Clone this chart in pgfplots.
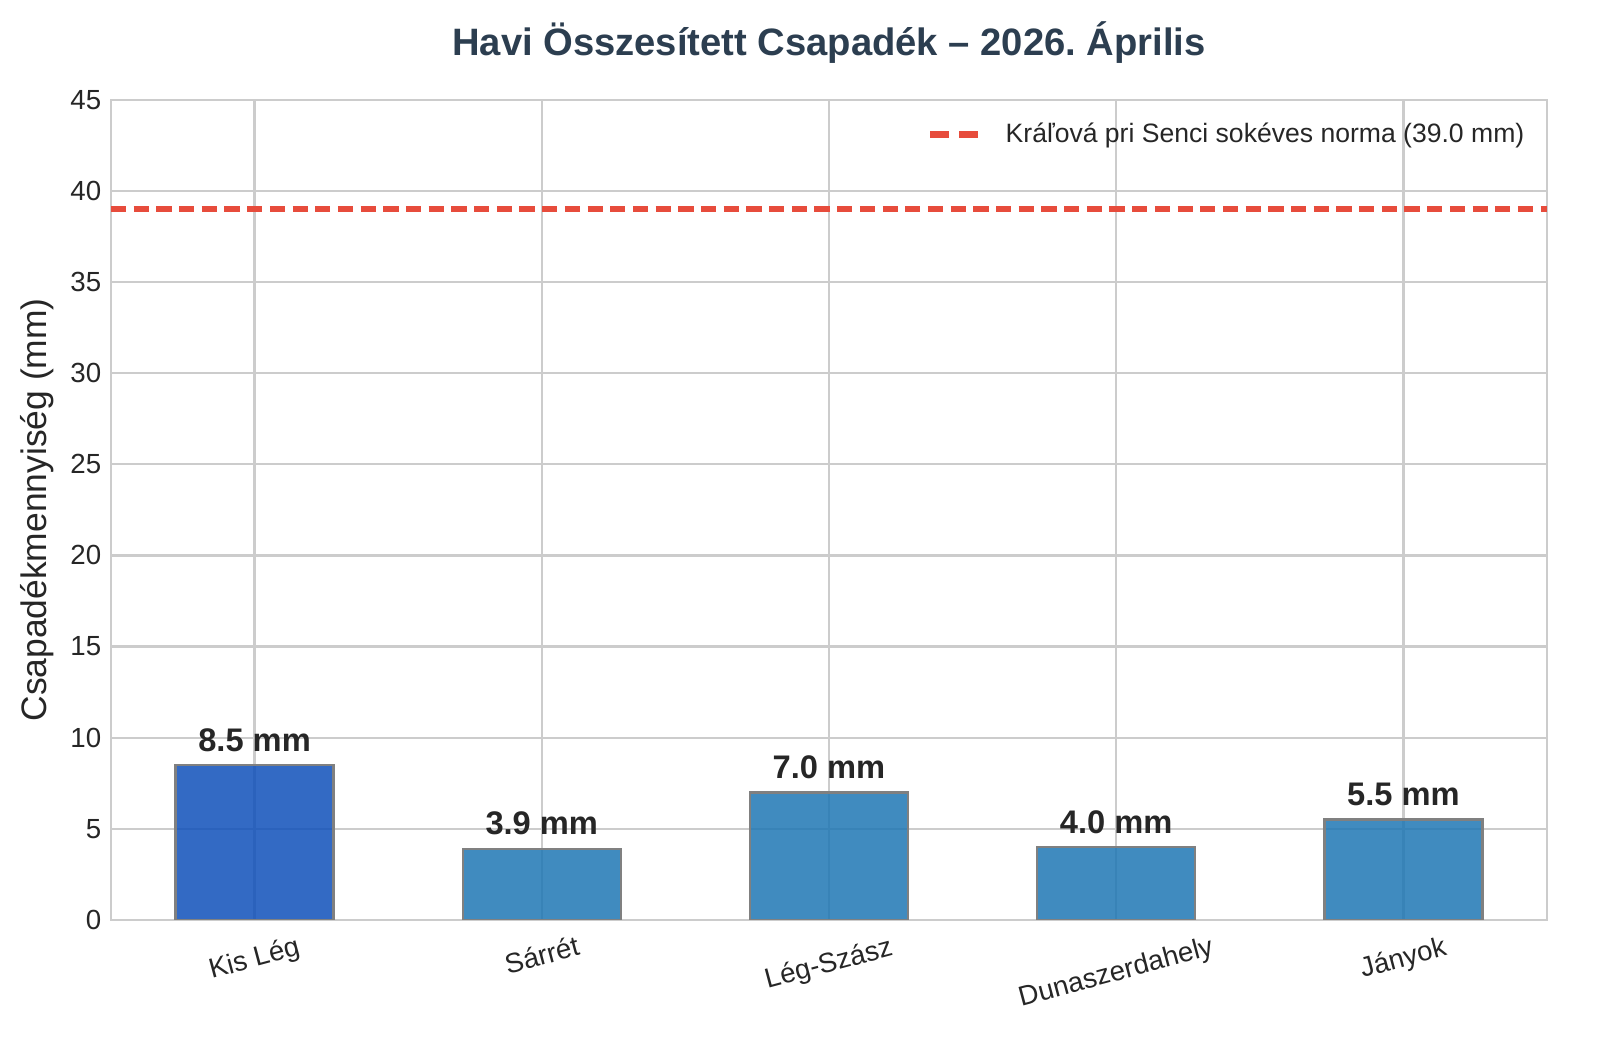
\documentclass[border=0pt]{standalone}
\usepackage{pgfplots}
\pgfplotsset{compat=1.18}
\usepackage{graphicx}
\usepackage{fontspec}
\setmainfont{Liberation Sans}
\frenchspacing
\definecolor{barA}{HTML}{0F50BA}
\definecolor{barB}{HTML}{1F77B4}
\definecolor{normred}{HTML}{E74C3C}
\definecolor{titlec}{HTML}{2C3E50}
\definecolor{gridc}{HTML}{CCCCCC}
\definecolor{txt}{HTML}{262626}
\pgfplotsset{/pgf/number format/assume math mode=true}
\begin{document}
\begin{tikzpicture}
\useasboundingbox (-40.1pt,-48.4pt) rectangle (538.05pt,332.4pt);
\begin{axis}[
  at={(0,0)}, anchor=south west, scale only axis,
  width=518.9pt, height=296.3pt,
  xmin=-0.5, xmax=4.5, ymin=0, ymax=45,
  ytick={0,5,...,45}, xtick={0,1,2,3,4},
  xticklabels={\rotatebox{15}{Kis Lég},\rotatebox{15}{Sárrét},\rotatebox{15}{Lég-Szász},\rotatebox{15}{Dunaszerdahely},\rotatebox{15}{Jányok}},
  x tick label style={anchor=north, yshift=-2pt, font=\fontsize{10}{12}\selectfont, text=txt},
  y tick label style={font=\fontsize{10}{12}\selectfont, text=txt},
  major tick length=0pt,
  grid=major, grid style={gridc, line width=0.8pt},
  axis line style={gridc, line width=0.9pt},
  ylabel={Csapadékmennyiség (mm)},
  ylabel style={font=\fontsize{12.8}{15}\selectfont, text=txt, at={(axis description cs:-0.0515,0.5)}, anchor=center},
  title={\textbf{Havi Összesített Csapadék – 2026. Április}},
  title style={font=\fontsize{13.8}{17}\selectfont, text=titlec, at={(axis description cs:0.5,1)}, anchor=base, yshift=10pt},
  legend style={draw=none, fill=none, at={(rel axis cs:1,1)}, anchor=north east, xshift=-3pt, yshift=-4pt, font=\fontsize{9.6}{11}\selectfont, text=txt, column sep=7pt},
  legend cell align=left,
  bar width=0.55, bar shift=0pt,
  nodes near coords={\pgfmathprintnumber[fixed,fixed zerofill,precision=1]{\pgfplotspointmeta} mm},
  nodes near coords style={font=\bfseries\fontsize{11.8}{13}\selectfont, text=txt, text opacity=1, anchor=south, inner sep=0pt, yshift=4.5pt},
]
\addplot[ybar, fill=barA, fill opacity=0.85, draw=gray, line width=0.9pt, forget plot] coordinates {(0,8.5)};
\addplot[ybar, fill=barB, fill opacity=0.85, draw=gray, line width=0.9pt, forget plot] coordinates {(1,3.9) (2,7.0) (3,4.0) (4,5.5)};
\addplot[normred, line width=2.2pt, dash pattern=on 5.5pt off 2.7pt, nodes near coords={},
  legend image post style={dash pattern=on 6.6pt off 3.8pt}] coordinates {(-0.5,39) (4.5,39)};
\addlegendentry{Kráľová pri Senci sokéves norma (39.0 mm)}
\end{axis}
\end{tikzpicture}
\end{document}
